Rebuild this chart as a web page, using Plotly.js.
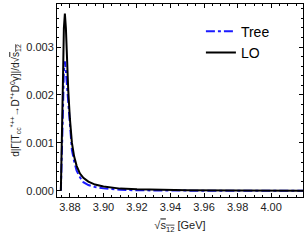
<!DOCTYPE html>
<html>
<head>
<meta charset="utf-8">
<script src="https://cdn.plot.ly/plotly-3.0.1.min.js"></script>
<style>html,body{margin:0;padding:0;background:#fff;}#plot{width:307px;height:242px;}</style>
</head>
<body>
<div id="plot"></div>
<script>
const sqrtS = [3.8746, 3.8752, 3.8758, 3.8764, 3.8770, 3.8776, 3.8782, 3.8790, 3.8800, 3.8812, 3.8825, 3.8840, 3.8860, 3.8880, 3.8910, 3.8950, 3.9000, 3.9050, 3.9100, 3.9200, 3.9300, 3.9500, 3.9800, 4.0200];
const loValues = [0, 0.0008, 0.0022, 0.0034, 0.0037, 0.0034, 0.0028, 0.0021, 0.0015, 0.0010, 0.00072, 0.00052, 0.00036, 0.00027, 0.00019, 0.00013, 0.00009, 0.00006, 0.000045, 0.00003, 0.00002, 0.00001, 0.000005, 0.000003];
const treeValues = [0, 0.0006, 0.0016, 0.0025, 0.0027, 0.0025, 0.0022, 0.0018, 0.0013, 0.00085, 0.00062, 0.00042, 0.00028, 0.00018, 0.00012, 0.00008, 0.00005, 0.00003, 0.00002, 0.00001, 0.000005, 0.000003, 0.000002, 0.000001];
const xTickVals = [3.88, 3.90, 3.92, 3.94, 3.96, 3.98, 4.00];
const yTickVals = [0.000, 0.001, 0.002, 0.003];

const traces = [
  {x: sqrtS, y: treeValues, name: 'Tree', mode: 'lines', legendgroup: 'a',
   line: {color: '#1a1aff', width: 2, dash: 'dashdot'}},
  {x: sqrtS, y: loValues, name: 'LO', mode: 'lines', legendgroup: 'b',
   line: {color: '#000000', width: 2}}
];
const font = {family: 'Liberation Sans, Arial, sans-serif', size: 11, color: '#222'};
const layout = {
  width: 307, height: 242,
  margin: {l: 57, r: 4, t: 4, b: 45},
  paper_bgcolor: '#fff', plot_bgcolor: '#fff',
  font: font,
  showlegend: true,
  legend: {x: 0.585, y: 0.94, xanchor: 'left', yanchor: 'top', bgcolor: 'rgba(0,0,0,0)',
           font: {family: 'Liberation Sans, Arial, sans-serif', size: 14, color: '#000'},
           traceorder: 'grouped', tracegroupgap: 0},
  xaxis: {range: [3.8723, 4.019], tickvals: xTickVals, tickformat: '.2f', automargin: true,
          ticks: 'inside', ticklen: 4, tickcolor: '#000', showgrid: false, zeroline: false,
          showline: true, linecolor: '#000', linewidth: 1, mirror: 'allticks',
          minor: {dtick: 0.005, ticks: 'inside', ticklen: 2, tickcolor: '#000'},
          title: {text: '√<span style="text-decoration:overline">s<sub>12</sub></span> [GeV]', font: {size: 11, color: '#222'}, standoff: 9}},
  yaxis: {range: [-0.00013, 0.0039], tickvals: yTickVals, tickformat: '.3f',
          ticks: 'inside', ticklen: 4, tickcolor: '#000', showgrid: false, zeroline: false,
          showline: true, linecolor: '#000', linewidth: 1, mirror: 'allticks',
          minor: {dtick: 0.0002, ticks: 'inside', ticklen: 2, tickcolor: '#000'},
          title: {text: 'd|Γ[T<sub>cc</sub><sup>*++</sup>→D<sup>*+</sup>D<sup>0</sup>γ]|/d√<span style="text-decoration:overline">s<sub>12</sub></span>', font: {size: 10, color: '#222'}, standoff: 4}}
};
Plotly.newPlot('plot', traces, layout, {displayModeBar: false, staticPlot: true});
</script>
</body>
</html>
